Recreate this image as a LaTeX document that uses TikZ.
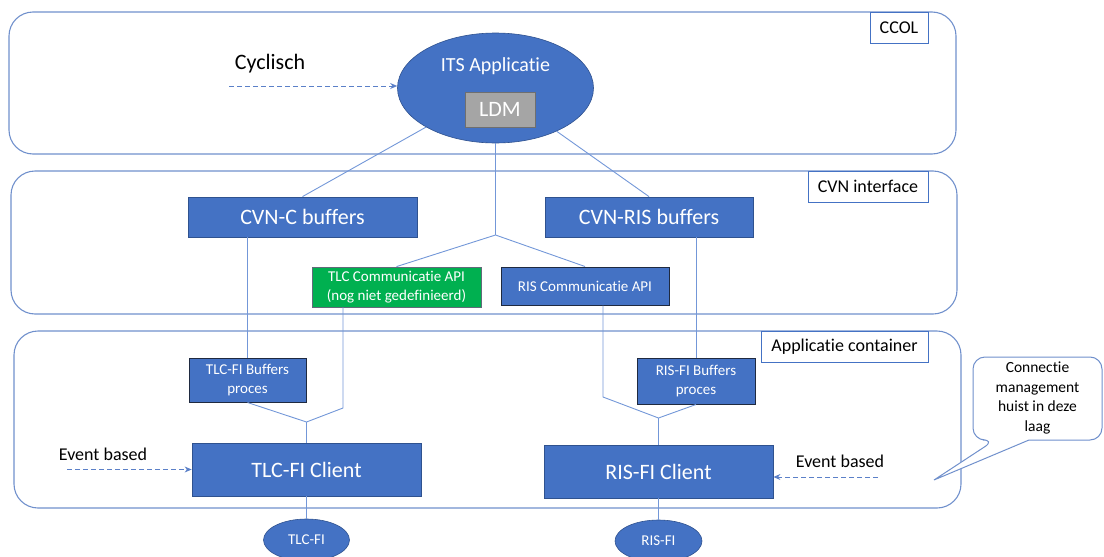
\documentclass[tikz,border=0pt]{standalone}
\usepackage{fontspec}
\setmainfont{Carlito}[Ligatures={NoCommon}]
\usetikzlibrary{shapes.geometric,arrows.meta}
\definecolor{bfill}{HTML}{4472C4}
\definecolor{bborder}{HTML}{2F528F}
\definecolor{dborder}{HTML}{1F2A40}
\definecolor{contc}{HTML}{7090CC}
\definecolor{lnc}{HTML}{7397D8}
\definecolor{arrc}{HTML}{5B80C8}
\definecolor{gfill}{HTML}{00B050}
\definecolor{ldmfill}{HTML}{A5A5A5}
\definecolor{ldmborder}{HTML}{6F6F6F}
\tikzset{
  container/.style={draw=contc, line width=1.1pt, rounded corners=24pt, rectangle, inner sep=0pt},
  lbl/.style={draw=bfill, fill=white, line width=0.9pt, inner sep=0pt, text=black, rectangle, font=\fontsize{18}{21}\selectfont},
  bbox/.style={rectangle, fill=bfill, draw=bborder, line width=0.8pt, text=white, inner sep=0pt, align=center},
  darkbox/.style={bbox, draw=dborder, line width=1pt},
  bigtxt/.style={font=\fontsize{22}{26}\selectfont},
  smalltxt/.style={font=\fontsize{15}{19}\selectfont},
  conn/.style={draw=lnc, line width=0.9pt},
  evarrow/.style={draw=arrc, dash pattern=on 5pt off 3pt, line width=0.9pt, -{Stealth[length=7pt,width=6pt]}},
  plain/.style={inner sep=0pt, text=black},
}
\begin{document}
\begin{tikzpicture}[x=1pt, y=-1pt]
\useasboundingbox (0,0) rectangle (1104,557);
% containers
\node[container, minimum width=947pt, minimum height=142pt] (ccol) at (482.5,83) {};
\node[container, minimum width=946pt, minimum height=143pt] (cvn) at (484,242.5) {};
\node[container, minimum width=947pt, minimum height=177pt] (app) at (487.5,419.5) {};
\node[lbl, minimum width=58pt, minimum height=31pt] (ccollbl) at (899,27.5) {CCOL};
\node[lbl, minimum width=120pt, minimum height=31pt] (cvnlbl) at (868,186.5) {CVN interface};
\node[lbl, minimum width=167pt, minimum height=31pt] (applbl) at (844.5,346.5) {Applicatie container};

% ITS application
\node[ellipse, fill=bfill, draw=bborder, line width=0.6pt, minimum width=196pt, minimum height=110pt, inner sep=0pt] (its) at (495.5,88) {};
\node[inner sep=0pt, text=white, font=\fontsize{20}{24}\selectfont] (itstxt) at (495.5,66) {ITS Applicatie};
\node[rectangle, fill=ldmfill, draw=ldmborder, line width=0.8pt, text=white, minimum width=70pt, minimum height=35pt, inner sep=0pt, bigtxt] (ldm) at (500,109.5) {LDM};

\node[plain, bigtxt] (cyc) at (270,64) {Cyclisch};
\coordinate (cycstart) at (229,86);
\draw[evarrow] (cycstart) -- (cycstart -| its.west);

% CVN layer
\node[bbox, bigtxt, minimum width=229pt, minimum height=40pt] (cvnc) at (302.5,217) {CVN-C buffers};
\node[bbox, bigtxt, minimum width=208pt, minimum height=40pt] (cvnris) at (649,217) {CVN-RIS buffers};
\node[bbox, fill=gfill, draw=dborder!70, line width=0.8pt, smalltxt, minimum width=169pt, minimum height=40pt] (tlcapi) at (396.5,287) {TLC Communicatie API\\(nog niet gedefinieerd)};
\node[darkbox, smalltxt, minimum width=168pt, minimum height=38pt] (risapi) at (585,286) {RIS Communicatie API};

% application layer
\node[darkbox, smalltxt, minimum width=117pt, minimum height=44pt] (tlcbuf) at (247.5,380) {TLC-FI Buffers\\proces};
\node[darkbox, smalltxt, minimum width=118pt, minimum height=46pt] (risbuf) at (696,381) {RIS-FI Buffers\\proces};
\node[bbox, bigtxt, minimum width=229pt, minimum height=53pt] (tlcclient) at (306.5,469.5) {TLC-FI Client};
\node[bbox, bigtxt, minimum width=229pt, minimum height=53pt] (risclient) at (658.5,471.5) {RIS-FI Client};
\node[ellipse, fill=bfill, draw=bborder, line width=0.6pt, text=white, smalltxt, minimum width=86pt, minimum height=42pt, inner sep=0pt] (tlcfi) at (306.5,540) {TLC-FI};
\node[ellipse, fill=bfill, draw=bborder, line width=0.6pt, text=white, smalltxt, minimum width=87pt, minimum height=42pt, inner sep=0pt] (risfi) at (658.5,541) {RIS-FI};

% event arrows
\node[plain, font=\fontsize{18}{21}\selectfont] (evltxt) at (103,454) {Event based};
\coordinate (evl) at (67,469.5);
\draw[evarrow] (evl) -- (tlcclient.west);
\node[plain, font=\fontsize{18}{21}\selectfont] (evrtxt) at (840,461) {Event based};
\coordinate (evr) at (878,477);
\draw[evarrow] (evr) -- (evr -| risclient.east);

% junctions
\coordinate (jcvn) at (495.5,235);
\coordinate (jtlc) at (306.5,422);
\coordinate (jris) at (658.5,418);
\coordinate (tlcbend) at (343,408);
\coordinate (risbend) at (603,397);

% connectors
\draw[conn] (its) -- (cvnc.north);
\draw[conn] (its) -- (cvnris.north);
\draw[conn] (its.south) -- (jcvn);
\draw[conn] (jcvn) -- (tlcapi.north);
\draw[conn] (jcvn) -- (risapi.north);
\draw[conn] (cvnc.south -| tlcbuf.north) -- (tlcbuf.north);
\draw[conn] (tlcapi.south -| tlcbend) -- (tlcbend) -- (jtlc);
\draw[conn] (tlcbuf.south) -- (jtlc);
\draw[conn] (jtlc) -- (tlcclient.north);
\draw[conn] (tlcclient.south) -- (tlcfi.north);
\draw[conn] (cvnris.south -| risbuf.north) -- (risbuf.north);
\draw[conn] (risapi.south -| risbend) -- (risbend) -- (jris);
\draw[conn] (risbuf.south) -- (jris);
\draw[conn] (jris) -- (risclient.north);
\draw[conn] (risclient.south) -- (risfi.north);

% callout
\coordinate (ctip) at (934,480);
\draw[draw=contc, fill=white, line width=1pt]
  (1029,440) [rounded corners=12pt] -- (1102,440) -- (1102,357) -- (973,357) -- (973,440) -- (995,440) [sharp corners] -- (ctip) -- cycle;
\node[plain, font=\fontsize{15.5}{19.5}\selectfont, align=center, text=black] (callout) at (1037.5,398) {Connectie\\management\\huist in deze\\laag};
\end{tikzpicture}
\end{document}
